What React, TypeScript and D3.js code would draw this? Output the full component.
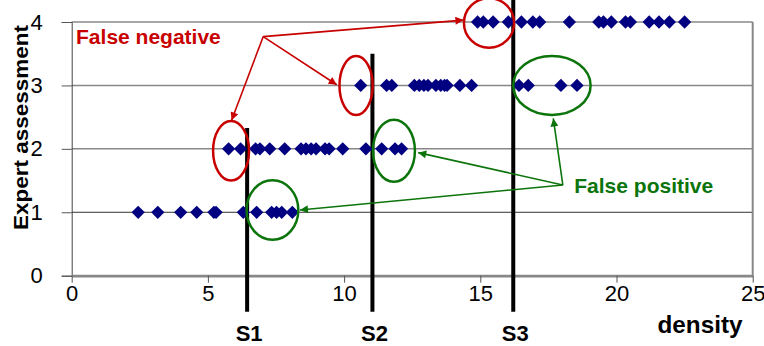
import React, { useRef, useEffect } from "react";
import * as d3 from "d3";

// density values, one list per expert assessment level
const level1 = [2.44, 3.16, 4.0, 4.59, 5.22, 5.3, 6.3, 6.79, 7.34, 7.52, 7.71, 8.1];
const level2 = [5.76, 6.2, 6.75, 6.91, 7.27, 7.82, 8.42, 8.6, 8.79, 8.97, 9.3, 9.45, 9.95, 10.8, 11.38, 11.87, 12.11];
const level3 = [10.61, 11.56, 11.75, 12.58, 12.76, 12.93, 13.08, 13.37, 13.55, 13.69, 13.78, 14.25, 14.68, 16.42, 16.76, 17.96, 18.55];
const level4 = [14.9, 15.11, 15.47, 16.03, 16.51, 16.93, 17.18, 18.27, 19.35, 19.52, 19.81, 20.33, 20.51, 21.2, 21.56, 21.94, 22.5];
const levels = [level1, level2, level3, level4];

const xTicks = [0, 5, 10, 15, 20, 25];
const yTicks = [0, 1, 2, 3, 4];

// thresholds: label, density, top of the line (in assessment units)
const thresholdNames = ["S1", "S2", "S3"];
const thresholdValues = [6.44, 11.04, 16.21];
const thresholdTops = [2.33, 3.5, 4.35];
const thresholdBottom = -0.57;

// annotation ellipses [cx, cy, rx, ry] in data units
const falseNegEllipses = [
  [5.85, 1.97, 0.66, 0.47],
  [10.44, 3.0, 0.61, 0.465],
  [15.32, 3.985, 0.92, 0.39],
];
const falsePosEllipses = [
  [7.37, 1.035, 0.95, 0.47],
  [11.83, 1.97, 0.77, 0.49],
  [17.63, 3.0, 1.42, 0.465],
];
const falseNegOrigin = [7.03, 3.77];
const falseNegTargets = [[5.87, 2.45], [9.73, 3.01], [14.38, 4.03]];
const falsePosOrigin = [18.03, 1.43];
const falsePosTargets = [[12.72, 1.94], [17.68, 2.48], [8.38, 1.036]];
const falseNegLabel = { text: "False negative", x: 0.16, y: 3.66 };
const falsePosLabel = { text: "False positive", x: 18.45, y: 1.3 };

const RED = "#c80000";
const GREEN = "#0b740b";
const NAVY = "#000080";
const FONT = "'Liberation Sans', Arial, sans-serif";

const W = 764;
const H = 346;

const App = () => {
  const svgRef = useRef<SVGSVGElement>(null);

  useEffect(() => {
    const svg = d3.select(svgRef.current);
    svg.selectAll("*").remove();

    const x = d3.scaleLinear().domain([0, 25]).range([71.7, 752.7]);
    const y = d3.scaleLinear().domain([0, 4]).range([275.7, 22]);

    // arrow markers
    const defs = svg.append("defs");
    [["red", RED], ["green", GREEN]].forEach(([id, c]) => {
      defs
        .append("marker")
        .attr("id", `arrow-${id}`)
        .attr("viewBox", "0 0 10 10")
        .attr("refX", 10)
        .attr("refY", 5)
        .attr("markerWidth", 11)
        .attr("markerHeight", 8)
        .attr("markerUnits", "userSpaceOnUse")
        .attr("orient", "auto")
        .append("path")
        .attr("d", "M0,0 L10,5 L0,10 Z")
        .attr("fill", c);
    });

    // gridlines
    svg
      .append("g")
      .selectAll("line")
      .data(yTicks.filter((d) => d > 0))
      .enter()
      .append("line")
      .attr("x1", x(0))
      .attr("x2", x(25))
      .attr("y1", (d) => y(d))
      .attr("y2", (d) => y(d))
      .attr("stroke", (d) => (d === 1 ? "#333" : "#888"))
      .attr("stroke-width", (d) => (d === 1 ? 1 : 1.5));

    // right border
    svg
      .append("line")
      .attr("x1", x(25))
      .attr("x2", x(25))
      .attr("y1", y(4))
      .attr("y2", y(0))
      .attr("stroke", "#888")
      .attr("stroke-width", 2);

    // y axis
    const yAxis = svg
      .append("g")
      .attr("transform", `translate(${x(0)},0)`)
      .call(d3.axisLeft(y).tickValues(yTicks).tickSize(10).tickPadding(19).tickFormat(d3.format("d")));
    yAxis.select(".domain").attr("stroke", "#444").attr("stroke-width", 1);
    yAxis.selectAll(".tick line").attr("stroke", "#555");
    yAxis.selectAll("text").attr("font-size", 22).attr("font-family", FONT).attr("fill", "#000");

    // x axis
    const xAxis = svg
      .append("g")
      .attr("transform", `translate(0,${y(0)})`)
      .call(d3.axisBottom(x).tickValues(xTicks).tickSize(7).tickSizeOuter(0).tickPadding(3).tickFormat(d3.format("d")));
    xAxis.select(".domain").attr("stroke", "#888").attr("stroke-width", 2.7);
    xAxis.selectAll(".tick line").attr("stroke", "#555");
    xAxis.selectAll("text").attr("font-size", 22).attr("font-family", FONT).attr("fill", "#000");

    // threshold lines
    const th = svg.append("g");
    th.selectAll("line")
      .data(thresholdValues)
      .enter()
      .append("line")
      .attr("x1", (d) => x(d))
      .attr("x2", (d) => x(d))
      .attr("y1", (d, i) => y(thresholdTops[i]))
      .attr("y2", y(thresholdBottom))
      .attr("stroke", "#000")
      .attr("stroke-width", 4);
    th.selectAll("text")
      .data(thresholdValues)
      .enter()
      .append("text")
      .attr("x", (d) => x(d) + 2)
      .attr("y", 341)
      .attr("text-anchor", "middle")
      .attr("font-family", FONT)
      .attr("font-weight", "bold")
      .attr("font-size", 22)
      .text((d, i) => thresholdNames[i]);

    // points
    const diamond = d3.symbol().type(d3.symbolSquare).size(88);
    levels.forEach((vals, li) => {
      svg
        .append("g")
        .selectAll("path")
        .data(vals)
        .enter()
        .append("path")
        .attr("d", diamond)
        .attr("transform", (d) => `translate(${x(d)},${y(li + 1)}) rotate(45)`)
        .attr("fill", NAVY);
    });

    // annotations
    const drawGroup = (
      ellipses: number[][],
      origin: number[],
      targets: number[][],
      label: { text: string; x: number; y: number },
      color: string,
      id: string
    ) => {
      const g = svg.append("g");
      g.selectAll("ellipse")
        .data(ellipses)
        .enter()
        .append("ellipse")
        .attr("cx", (d) => x(d[0]))
        .attr("cy", (d) => y(d[1]))
        .attr("rx", (d) => x(d[2]) - x(0))
        .attr("ry", (d) => y(0) - y(d[3]))
        .attr("fill", "none")
        .attr("stroke", color)
        .attr("stroke-width", 2.5);
      g.selectAll("line")
        .data(targets)
        .enter()
        .append("line")
        .attr("x1", x(origin[0]))
        .attr("y1", y(origin[1]))
        .attr("x2", (d) => x(d[0]))
        .attr("y2", (d) => y(d[1]))
        .attr("stroke", color)
        .attr("stroke-width", 1.6)
        .attr("marker-end", `url(#arrow-${id})`);
      g.append("text")
        .attr("x", x(label.x))
        .attr("y", y(label.y))
        .attr("font-family", FONT)
        .attr("font-weight", "bold")
        .attr("font-size", 21)
        .attr("fill", color)
        .text(label.text);
    };
    drawGroup(falseNegEllipses, falseNegOrigin, falseNegTargets, falseNegLabel, RED, "red");
    drawGroup(falsePosEllipses, falsePosOrigin, falsePosTargets, falsePosLabel, GREEN, "green");

    // axis titles
    svg
      .append("text")
      .attr("transform", `translate(28,${(25 + 230) / 2}) rotate(-90)`)
      .attr("text-anchor", "middle")
      .attr("font-family", FONT)
      .attr("font-weight", "bold")
      .attr("font-size", 21)
      .attr("textLength", 205)
      .attr("lengthAdjust", "spacingAndGlyphs")
      .text("Expert assessment");
    svg
      .append("text")
      .attr("x", 700)
      .attr("y", 333)
      .attr("text-anchor", "middle")
      .attr("font-family", FONT)
      .attr("font-weight", "bold")
      .attr("font-size", 23)
      .attr("textLength", 85)
      .attr("lengthAdjust", "spacingAndGlyphs")
      .text("density");
  }, []);

  return (
    <svg
      ref={svgRef}
      width={W}
      height={H}
      style={{ position: "absolute", left: 0, top: 0, background: "#fff" }}
    />
  );
};

export default App;
